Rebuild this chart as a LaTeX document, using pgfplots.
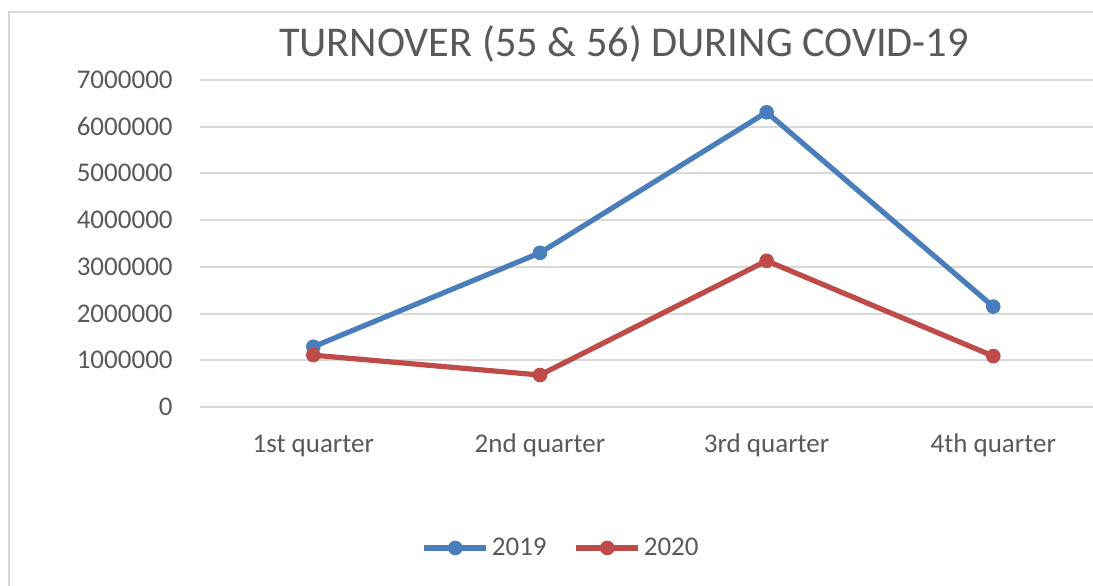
\documentclass[border=0pt]{standalone}
\usepackage{fontspec}
\setmainfont{Carlito}
\usepackage{pgfplots}
\pgfplotsset{compat=1.18}
\definecolor{blueS}{HTML}{4A7EBB}
\definecolor{redS}{HTML}{BE4B48}
\definecolor{txt}{HTML}{595959}
\definecolor{gridc}{HTML}{D9D9D9}
\begin{document}
\begin{tikzpicture}
\useasboundingbox (0pt,0pt) rectangle (546.5pt,292.5pt);
\draw[gridc, line width=1pt] (4.5pt,-2pt) -- (4.5pt,286.5pt) -- (550pt,286.5pt);
\node[txt, anchor=base, inner sep=0pt, font=\fontsize{21.2}{25}\selectfont] at (312pt,264pt) {TURNOVER (55 \& 56) DURING COVID-19};
\begin{axis}[
  at={(100pt,89pt)}, anchor=south west,
  scale only axis, width=446.5pt, height=163.5pt,
  xmin=-0.5, xmax=3.44, ymin=0, ymax=7000000,
  axis line style={draw=none},
  tick style={draw=none},
  ymajorgrids, grid style={gridc, line width=1pt},
  xtick={0,1,2,3}, xticklabels={1st quarter,2nd quarter,3rd quarter,4th quarter},
  ytick={0,1000000,...,7000000},
  scaled y ticks=false,
  major tick length=0pt,
  /pgf/number format/.cd, fixed, 1000 sep={}, assume math mode=true,
  /pgfplots/.cd,
  tick label style={txt, font=\fontsize{13.5}{16}\selectfont, inner sep=0pt},
  yticklabel style={anchor=base east, xshift=-13.5pt, yshift=-4.25pt},
  xticklabel style={anchor=base, yshift=-22.5pt},
  legend columns=2,
  legend style={at={(0.405,-0.431)}, anchor=center, draw=none, fill=none,
    font=\fontsize{13.5}{16}\selectfont, text=txt,
    /tikz/every even column/.append style={column sep=12pt},
    nodes={inner xsep=1.5pt, inner ysep=1pt}},
  legend image code/.code={\draw[mark repeat=2,mark phase=2] plot coordinates {(0pt,0pt)(15.5pt,0pt)(31pt,0pt)};},
  clip=false,
]
\addplot[blueS, line width=2.6pt, mark=*, mark size=3.4pt, mark options={fill=blueS, draw=blueS, line width=0.5pt}]
  coordinates {(0,1290000) (1,3300000) (2,6310000) (3,2150000)};
\addlegendentry{2019}
\addplot[redS, line width=2.6pt, mark=*, mark size=3.4pt, mark options={fill=redS, draw=redS, line width=0.5pt}]
  coordinates {(0,1110000) (1,685000) (2,3130000) (3,1090000)};
\addlegendentry{2020}
\end{axis}
\end{tikzpicture}
\end{document}
